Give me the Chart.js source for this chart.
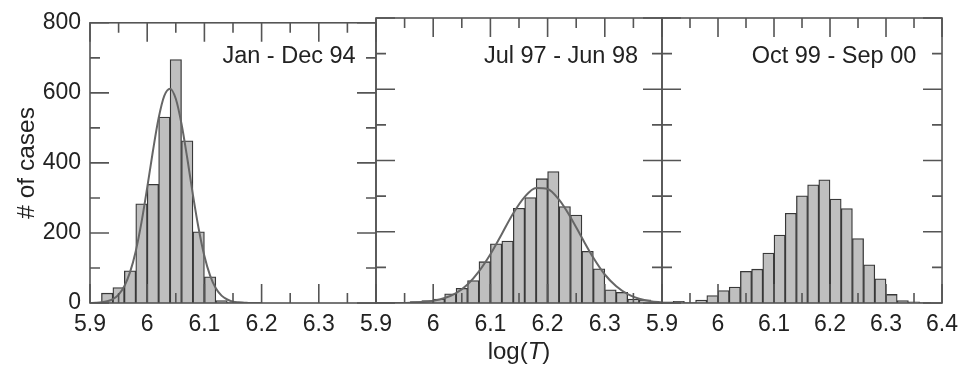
<!DOCTYPE html>
<html>
<head>
<meta charset="utf-8">
<title>log(T) histograms</title>
<script src="https://cdn.jsdelivr.net/npm/chart.js@4.4.1/dist/chart.umd.min.js"></script>
<style>
  html, body { margin: 0; padding: 0; background: #fff; }
  #wrap { position: relative; width: 966px; height: 370px; }
  #wrap canvas { position: absolute; left: 0; top: 0; }
  #xtitle {
    position: absolute; left: 449px; width: 140px; top: 337px; text-align: center;
    font: 24px 'Liberation Sans', Arial, sans-serif; color: #222; line-height: 28px;
  }
</style>
</head>
<body>
<div id="wrap">
  <canvas id="c1" width="966" height="370"></canvas>
  <canvas id="c2" width="966" height="370"></canvas>
  <canvas id="c3" width="966" height="370"></canvas>
  <div id="xtitle">log(<i>T</i>)</div>
</div>
<script>
(function () {
  'use strict';

  // histogram bins (centres, width 0.02)
  const binCenters = [5.91, 5.93, 5.95, 5.97, 5.99, 6.01, 6.03, 6.05, 6.07, 6.09, 6.11, 6.13,
    6.15, 6.17, 6.19, 6.21, 6.23, 6.25, 6.27, 6.29, 6.31, 6.33, 6.35, 6.37, 6.39];

  const counts94 = [2, 28, 44, 92, 283, 339, 531, 695, 463, 203, 75, 7, 2,
    0, 0, 0, 0, 0, 0, 0, 0, 0, 0, 0, 0];
  const counts98 = [0, 0, 2, 4, 7, 11, 26, 41, 63, 116, 166, 174, 266,
    296, 349, 369, 271, 247, 145, 96, 37, 30, 11, 9, 2];
  const counts00 = [3, 5, 1, 8, 21, 35, 45, 89, 95, 140, 191, 252, 301,
    332, 346, 292, 265, 181, 107, 68, 24, 7, 3, 1, 0];

  // fitted curves
  const fitX94 = [5.90, 5.91, 5.92, 5.93, 5.94, 5.95, 5.96, 5.97, 5.98, 5.99, 6.00, 6.01, 6.02,
    6.03, 6.04, 6.05, 6.06, 6.07, 6.08, 6.09, 6.10, 6.11, 6.12, 6.13, 6.14, 6.15, 6.16, 6.17,
    6.18, 6.19, 6.20];
  const fit94 = [0.2, 0.7, 1.9, 4.8, 11, 24, 48, 88, 148, 230, 329, 434, 528,
    592, 612, 583, 511, 414, 308, 212, 134, 78, 42, 21, 10, 4, 2, 1,
    0, 0, 0];
  const fitX98 = [5.90, 5.92, 5.94, 5.96, 5.98, 6.00, 6.02, 6.04, 6.06, 6.08, 6.10, 6.12, 6.14,
    6.16, 6.18, 6.20, 6.22, 6.24, 6.26, 6.28, 6.30, 6.32, 6.34, 6.36, 6.38, 6.40];
  const fit98 = [0, 0.1, 0.3, 1, 2.6, 6.3, 14, 28, 52, 89, 137, 194, 252,
    298, 323, 320, 290, 241, 183, 127, 80, 47, 25, 12, 5, 2];

  // axis ticks
  const xMajor = [5.9, 6.0, 6.1, 6.2, 6.3, 6.4];
  const xMinor = [5.95, 6.05, 6.15, 6.25, 6.35];
  const yMajor = [0, 200, 400, 600, 800];
  const yMinor = [100, 300, 500, 700];

  const FONT = "'Liberation Sans', Arial, Helvetica, sans-serif";
  Chart.defaults.font.family = FONT;
  Chart.defaults.font.size = 23;
  Chart.defaults.color = '#222';

  const AXIS = '#555';
  const MAJOR_LEN = 19;
  const MINOR_LEN = 10;

  // frame, inward ticks on all sides, period label
  const panelFrame = {
    id: 'panelFrame',
    afterDatasetsDraw(chart, args, opts) {
      const ctx = chart.ctx;
      const a = chart.chartArea;
      const x = chart.scales.x;
      const y = chart.scales.y;
      ctx.save();
      ctx.strokeStyle = AXIS;
      ctx.lineWidth = 1.6;
      ctx.beginPath();
      function xt(v, len) {
        const px = x.getPixelForValue(v);
        ctx.moveTo(px, a.bottom); ctx.lineTo(px, a.bottom - len);
        ctx.moveTo(px, a.top); ctx.lineTo(px, a.top + len);
      }
      function yt(v, len) {
        const py = y.getPixelForValue(v);
        ctx.moveTo(a.left, py); ctx.lineTo(a.left + len, py);
        ctx.moveTo(a.right, py); ctx.lineTo(a.right - len, py);
      }
      xMajor.forEach(function (v) { xt(v, MAJOR_LEN); });
      xMinor.forEach(function (v) { xt(v, MINOR_LEN); });
      yMajor.forEach(function (v) { yt(v, MAJOR_LEN); });
      yMinor.forEach(function (v) { yt(v, MINOR_LEN); });
      ctx.stroke();
      ctx.strokeRect(a.left, a.top, a.right - a.left, a.bottom - a.top);

      ctx.fillStyle = '#222';
      ctx.font = '23.5px ' + FONT;
      ctx.textAlign = 'center';
      ctx.textBaseline = 'alphabetic';
      ctx.fillText(opts.label, opts.labelX, 63);
      ctx.restore();
    }
  };

  function fmt(v) { return String(Number(v.toFixed(1))); }

  function makeChart(id, p) {
    const datasets = [];
    if (p.fitX) {
      datasets.push({
        type: 'line',
        data: p.fitX.map(function (v, i) { return { x: v, y: p.fit[i] }; }),
        borderColor: '#666',
        borderWidth: 2,
        pointRadius: 0,
        cubicInterpolationMode: 'monotone',
        fill: false,
        order: 0
      });
    }
    datasets.push({
      type: 'bar',
      data: binCenters.map(function (v, i) { return { x: v, y: p.counts[i] }; }),
      backgroundColor: '#bfbfbf',
      borderColor: '#383838',
      borderWidth: 1.3,
      barPercentage: 1,
      categoryPercentage: 1,
      order: 1
    });

    return new Chart(document.getElementById(id), {
      type: 'bar',
      data: { datasets: datasets },
      plugins: [panelFrame],
      options: {
        responsive: false,
        animation: false,
        devicePixelRatio: 1,
        events: [],
        layout: { padding: { left: p.padLeft, right: p.padRight, top: 18, bottom: 0 } },
        plugins: {
          legend: { display: false },
          tooltip: { enabled: false },
          panelFrame: { label: p.label, labelX: p.labelX }
        },
        scales: {
          x: {
            type: 'linear',
            min: 5.9,
            max: 6.4,
            offset: false,
            grid: { display: false, drawTicks: false },
            border: { display: false },
            ticks: {
              stepSize: 0.1,
              autoSkip: false,
              maxRotation: 0,
              padding: 8,
              callback: function (v) {
                if (!p.lastLabel && Math.abs(v - 6.4) < 1e-6) return '';
                return fmt(v);
              }
            },
            afterFit: function (s) { s.height = 67; }
          },
          y: {
            display: p.showY,
            min: 0,
            max: 800,
            grid: { display: false, drawTicks: false },
            border: { display: false },
            ticks: { stepSize: 200, padding: 9 },
            title: {
              display: p.showY,
              text: '# of cases',
              font: { size: 24.5 },
              padding: { top: 13, bottom: 0 }
            },
            afterFit: function (s) { s.width = p.showY ? 90 : 0; }
          }
        }
      }
    });
  }

  makeChart('c1', {
    counts: counts94, fitX: fitX94, fit: fit94, label: 'Jan - Dec 94', labelX: 289,
    padLeft: 0, padRight: 590, showY: true, lastLabel: false
  });
  makeChart('c2', {
    counts: counts98, fitX: fitX98, fit: fit98, label: 'Jul 97 - Jun 98', labelX: 561,
    padLeft: 376, padRight: 304, showY: false, lastLabel: false
  });
  makeChart('c3', {
    counts: counts00, label: 'Oct 99 - Sep 00', labelX: 834,
    padLeft: 662, padRight: 18, showY: false, lastLabel: true
  });
})();
</script>
</body>
</html>
